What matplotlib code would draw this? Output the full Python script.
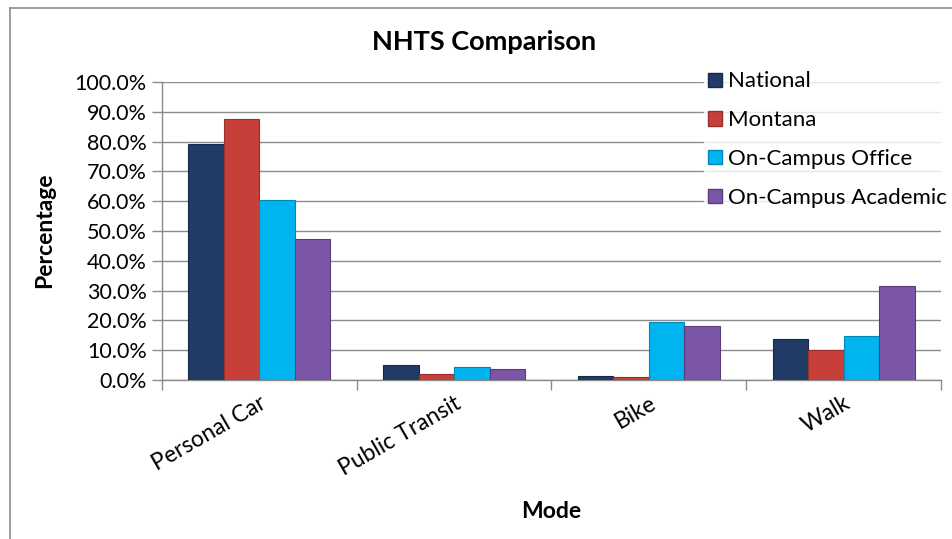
import numpy as np
import matplotlib.pyplot as plt
from matplotlib.patches import Patch
from matplotlib.lines import Line2D

plt.rcParams['font.family'] = ['Lato', 'DejaVu Sans']

modes = ['Personal Car', 'Public Transit', 'Bike', 'Walk']
national = [79.2, 5.0, 1.2, 13.8]
montana = [87.6, 2.0, 0.9, 10.0]
office = [60.4, 4.3, 19.5, 14.9]
academic = [47.3, 3.6, 18.1, 31.5]

series = ['National', 'Montana', 'On-Campus Office', 'On-Campus Academic']
colors = ['#1f3b66', '#c83f3a', '#00b4ef', '#7b55a6']
edges = ['#15294a', '#93302b', '#0088b8', '#5a3c7c']

fig = plt.figure(figsize=(9.53, 5.39), dpi=100)
ax = fig.add_axes([162 / 953, 1 - 380 / 539, (941 - 162) / 953, (380 - 82) / 539])

x = np.arange(len(modes))
w = 0.182
offsets = (np.arange(4) - 1.5) * w
for vals, off, c, ec, lab in zip([national, montana, office, academic], offsets, colors, edges, series):
    ax.bar(x + off, vals, width=w, color=c, edgecolor=ec, linewidth=0.8, label=lab, zorder=3)

ax.set_xlim(-0.5, len(modes) - 0.5)
ax.set_ylim(0, 100)
ax.set_yticks(np.arange(0, 101, 10))
ax.set_yticklabels([f'{v:.1f}%' for v in np.arange(0, 101, 10)], fontsize=15.5)
ax.grid(axis='y', color='#8c8c8c', linewidth=1.0, zorder=0)

ax.set_xticks(np.arange(-0.5, len(modes), 1.0))
ax.set_xticklabels([])
ax.set_xticks(x, minor=True)
ax.set_xticklabels(modes, minor=True, rotation=30, ha='right', va='top',
                   rotation_mode='anchor', fontsize=16.5)
ax.tick_params(axis='x', which='minor', length=0, pad=9)
ax.tick_params(axis='x', which='major', length=7, color='#8c8c8c', width=1)
ax.tick_params(axis='y', length=7, color='#8c8c8c', width=1, pad=4)

for s in ['top', 'right']:
    ax.spines[s].set_visible(False)
for s in ['left', 'bottom']:
    ax.spines[s].set_color('#8c8c8c')
    ax.spines[s].set_linewidth(1)

fig.text(45 / 953, 1 - 230 / 539, 'Percentage', fontsize=16.5, fontweight='bold',
         rotation=90, ha='center', va='center')
fig.text(551 / 953, 1 - 512 / 539, 'Mode', fontsize=16.5, fontweight='bold', ha='center', va='center')
fig.text(484 / 953, 1 - 42 / 539, 'NHTS Comparison', fontsize=19.5, fontweight='bold', ha='center', va='center')

# legend with a white panel covering the grid lines
handles = [Patch(facecolor=c, edgecolor=ec) for c, ec in zip(colors, edges)]
leg = fig.legend(handles, series, loc='upper left', bbox_to_anchor=(704 / 953, 1 - 67 / 539),
                 frameon=True, fontsize=16, handlelength=0.6, handleheight=0.6,
                 handletextpad=0.3, labelspacing=0.85, borderpad=0.2, borderaxespad=0)
leg.get_frame().set_facecolor('white')
leg.get_frame().set_edgecolor('white')
leg.get_frame().set_boxstyle('square', pad=0)

# outer chart border (left and top)
fig.add_artist(Line2D([10 / 953, 10 / 953], [0, 1 - 8 / 539], color='#8c8c8c', lw=1.2))
fig.add_artist(Line2D([10 / 953, 1], [1 - 8 / 539, 1 - 8 / 539], color='#8c8c8c', lw=1.2))

fig.savefig('out.png', dpi=100)
